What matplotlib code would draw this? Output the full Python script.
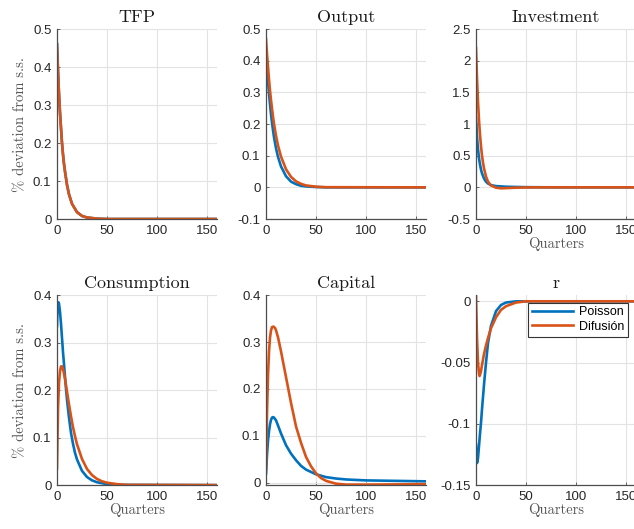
import matplotlib
matplotlib.use('Agg')
import matplotlib.pyplot as plt
from matplotlib.ticker import FuncFormatter

plt.rcParams['font.family'] = ['Liberation Sans', 'DejaVu Sans']
plt.rcParams['axes.unicode_minus'] = False

BLUE = '#0072BD'
ORANGE = '#D95319'

# quarters and responses (% deviation from s.s.)
t_tfp = [0, 1, 2, 3, 4, 5, 6, 7, 8, 10, 12, 15, 20, 25, 30, 40, 50, 160]
tfp = [0.46, 0.39, 0.33, 0.28, 0.24, 0.20, 0.17, 0.145, 0.125, 0.09, 0.065, 0.04, 0.018, 0.008, 0.004, 0.001, 0.0, 0.0]

t_out = [0, 1, 2, 3, 4, 5, 6, 7, 8, 10, 12, 15, 20, 25, 30, 35, 40, 50, 60, 160]
out_poisson = [0.43, 0.38, 0.335, 0.295, 0.262, 0.23, 0.204, 0.18, 0.158, 0.123, 0.096, 0.066, 0.035, 0.018, 0.01, 0.005, 0.003, 0.001, 0.0, 0.0]
out_difusion = [0.468, 0.42, 0.38, 0.34, 0.305, 0.275, 0.248, 0.223, 0.2, 0.163, 0.132, 0.097, 0.057, 0.033, 0.019, 0.011, 0.006, 0.002, 0.0005, 0.0]

t_inv_p = [0, 1, 2, 3, 4, 5, 6, 8, 10, 12, 15, 20, 30, 40, 50, 70, 160]
inv_poisson = [1.1, 0.8, 0.6, 0.46, 0.36, 0.28, 0.22, 0.14, 0.09, 0.06, 0.035, 0.02, 0.01, 0.006, 0.003, 0.001, 0.0]
t_inv_d = [0, 1, 2, 3, 4, 5, 6, 7, 8, 10, 12, 15, 20, 25, 30, 40, 50, 60, 160]
inv_difusion = [2.2, 1.72, 1.35, 1.06, 0.83, 0.65, 0.5, 0.39, 0.3, 0.17, 0.09, 0.03, -0.005, -0.015, -0.012, -0.005, -0.002, 0.0, 0.0]

t_con_p = [0, 0.5, 1, 1.5, 2, 3, 4, 5, 6, 7, 8, 9, 10, 12, 14, 16, 18, 20, 25, 30, 35, 40, 50, 60, 160]
con_poisson = [0.335, 0.37, 0.383, 0.385, 0.382, 0.365, 0.34, 0.31, 0.28, 0.255, 0.228, 0.203, 0.18, 0.142, 0.11, 0.087, 0.068, 0.054, 0.03, 0.017, 0.01, 0.006, 0.002, 0.0005, 0.0]
t_con_d = [0, 1, 2, 3, 4, 5, 6, 7, 8, 9, 10, 12, 14, 16, 18, 20, 25, 30, 35, 40, 45, 50, 60, 70, 160]
con_difusion = [0.035, 0.16, 0.215, 0.24, 0.25, 0.25, 0.244, 0.235, 0.224, 0.21, 0.197, 0.17, 0.145, 0.122, 0.103, 0.086, 0.055, 0.034, 0.021, 0.013, 0.008, 0.005, 0.002, 0.0005, 0.0]

t_cap_p = [0, 1, 2, 3, 4, 5, 6, 7, 8, 10, 12, 15, 20, 25, 30, 35, 40, 50, 60, 70, 80, 100, 130, 160]
cap_poisson = [0.02, 0.06, 0.09, 0.11, 0.125, 0.134, 0.139, 0.14, 0.139, 0.133, 0.122, 0.105, 0.08, 0.062, 0.048, 0.036, 0.028, 0.018, 0.012, 0.009, 0.007, 0.005, 0.004, 0.003]
t_cap_d = [0, 1, 2, 3, 4, 5, 6, 7.5, 9, 10, 12, 15, 20, 25, 30, 35, 40, 45, 50, 55, 60, 70, 80, 100, 160]
cap_difusion = [0.03, 0.15, 0.23, 0.28, 0.31, 0.325, 0.332, 0.333, 0.33, 0.325, 0.31, 0.28, 0.225, 0.17, 0.12, 0.085, 0.055, 0.035, 0.02, 0.01, 0.004, -0.002, -0.004, -0.004, -0.003]

t_r = [0, 1, 2, 3, 4, 5, 6, 8, 10, 12, 15, 20, 25, 30, 40, 50, 160]
r_poisson = [-0.117, -0.132, -0.128, -0.118, -0.108, -0.099, -0.088, -0.068, -0.05, -0.034, -0.02, -0.008, -0.003, -0.001, 0.0, 0.0, 0.0]
t_r_d = [0, 1, 2, 3, 3.5, 4, 5, 6, 8, 10, 12, 15, 20, 25, 30, 40, 50, 160]
r_difusion = [0.004, -0.03, -0.05, -0.059, -0.061, -0.06, -0.057, -0.052, -0.043, -0.036, -0.03, -0.022, -0.013, -0.007, -0.004, -0.001, 0.0, 0.0]

fig = plt.figure(figsize=(6.34, 5.29), dpi=100)

lefts = [0.0899, 0.4196, 0.7508]
w = 0.2524
rows = [(0.586, 0.359), (0.083, 0.359)]

fmt = FuncFormatter(lambda v, p: f'{v:g}')
serif = 'cmr10'


def make_ax(col, row, title, ylim, yticks, ylabel=False, xlabel=False):
    ax = fig.add_axes([lefts[col], rows[row][0], w, rows[row][1]])
    ax.set_xlim(0, 160)
    ax.set_ylim(*ylim)
    ax.set_yticks(yticks)
    ax.set_xticks([0, 50, 100, 150])
    ax.yaxis.set_major_formatter(fmt)
    ax.grid(True, color='#e3e3e3', linewidth=0.8)
    ax.set_axisbelow(True)
    for s in ['top', 'right']:
        ax.spines[s].set_visible(False)
    for s in ['left', 'bottom']:
        ax.spines[s].set_color('#4d4d4d')
        ax.spines[s].set_linewidth(0.9)
    ax.tick_params(direction='in', length=2.5, width=0.6, colors='#4d4d4d',
                   labelsize=9.5, labelcolor='#262626', pad=4)
    ax.set_title(title, family=serif, fontsize=13, pad=5, color='#1a1a1a')
    if ylabel:
        ax.set_ylabel('% deviation from s.s.', family=serif, fontsize=10.5,
                      color='#555555', labelpad=4)
    if xlabel:
        ax.set_xlabel('Quarters', family=serif, fontsize=10.5,
                      color='#555555', labelpad=0)
    return ax


lw = 1.9

ax = make_ax(0, 0, 'TFP', (0, 0.5), [0, 0.1, 0.2, 0.3, 0.4, 0.5], ylabel=True)
ax.plot(t_tfp, tfp, color=BLUE, lw=lw)
ax.plot(t_tfp, tfp, color=ORANGE, lw=lw)

ax = make_ax(1, 0, 'Output', (-0.1, 0.5), [-0.1, 0, 0.1, 0.2, 0.3, 0.4, 0.5])
ax.plot(t_out, out_poisson, color=BLUE, lw=lw)
ax.plot(t_out, out_difusion, color=ORANGE, lw=lw)

ax = make_ax(2, 0, 'Investment', (-0.5, 2.5), [-0.5, 0, 0.5, 1, 1.5, 2, 2.5], xlabel=True)
ax.plot(t_inv_p, inv_poisson, color=BLUE, lw=lw)
ax.plot(t_inv_d, inv_difusion, color=ORANGE, lw=lw)

ax = make_ax(0, 1, 'Consumption', (0, 0.4), [0, 0.1, 0.2, 0.3, 0.4], ylabel=True, xlabel=True)
ax.plot(t_con_p, con_poisson, color=BLUE, lw=lw)
ax.plot(t_con_d, con_difusion, color=ORANGE, lw=lw)

ax = make_ax(1, 1, 'Capital', (-0.005, 0.4), [0, 0.1, 0.2, 0.3, 0.4], xlabel=True)
ax.plot(t_cap_p, cap_poisson, color=BLUE, lw=lw)
ax.plot(t_cap_d, cap_difusion, color=ORANGE, lw=lw)

ax = make_ax(2, 1, 'r', (-0.15, 0.005), [-0.15, -0.1, -0.05, 0], xlabel=True)
ax.plot(t_r, r_poisson, color=BLUE, lw=lw, label='Poisson')
ax.plot(t_r_d, r_difusion, color=ORANGE, lw=lw, label='Difusión')
leg = ax.legend(loc='upper right', bbox_to_anchor=(0.952, 0.961), borderaxespad=0,
                fontsize=9, fancybox=False, framealpha=1, handlelength=3.3,
                borderpad=0.3, labelspacing=0.2, handletextpad=0.5)
leg.get_frame().set_edgecolor('#333333')
leg.get_frame().set_linewidth(0.8)

fig.savefig('out.png', dpi=100)
